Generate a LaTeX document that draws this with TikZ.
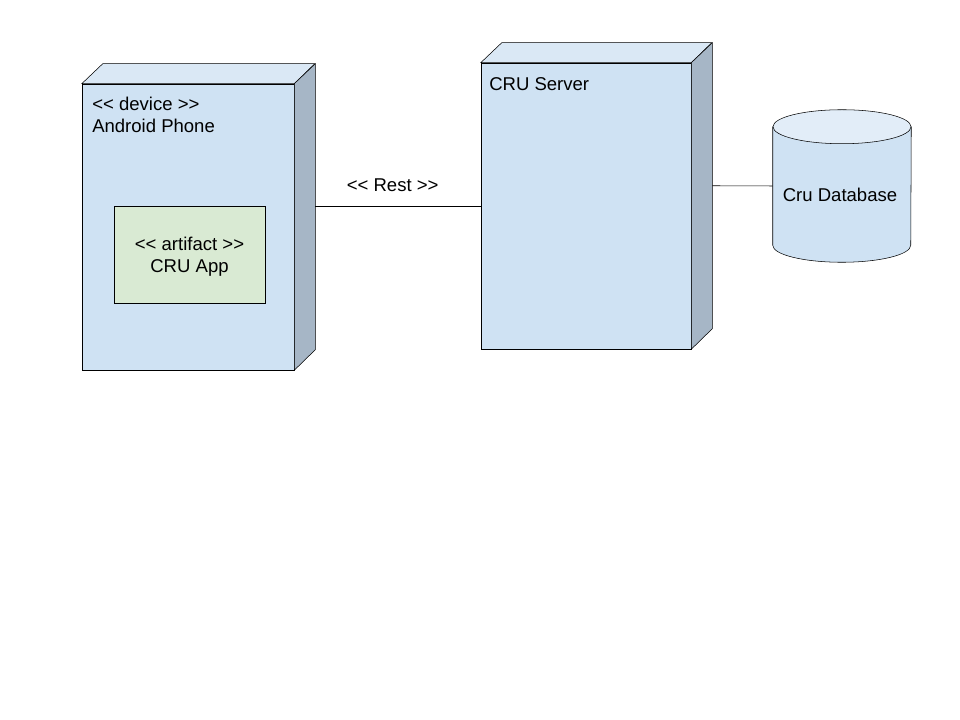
\documentclass[tikz,border=0pt]{standalone}
\usepackage{fontspec}
\setmainfont{Liberation Sans}
\usetikzlibrary{calc, positioning}
\definecolor{nodefront}{RGB}{207,226,243}
\definecolor{nodetop}{RGB}{218,232,245}
\definecolor{nodeside}{RGB}{166,182,198}
\definecolor{artifact}{RGB}{217,234,211}
\definecolor{dbtop}{RGB}{226,237,248}

\begin{document}
\begin{tikzpicture}[x=0.75pt, y=-0.75pt, font=\fontsize{13.9}{16.5}\selectfont,
    front/.style={draw, fill=nodefront, rectangle, inner sep=0pt},
    face/.style={draw, line join=miter},
    artbox/.style={draw, fill=artifact, rectangle, inner sep=0pt, align=center}]

    % Canvas
    \useasboundingbox (0,0) rectangle (960,720);

    % Android phone (3D box)
    \node[front, minimum width=212*0.75pt, minimum height=286*0.75pt] (phone) at (188,227) {};
    \draw[face, fill=nodetop] (phone.north west) -- ++(21,-20) -- ++(212,0) -- (phone.north east) -- cycle;
    \draw[face, fill=nodeside] (phone.north east) -- ++(21,-20) -- ++(0,286) -- (phone.south east) -- cycle;
    \node[anchor=north west, align=left, inner sep=0pt] (phonelabel) at (92,97) {<{}< device >{}>\\Android Phone};

    % Artifact inside phone
    \node[artbox, minimum width=151*0.75pt, minimum height=97*0.75pt] (app) at (189.5,254.5) {};
    \node[align=center] (applabel) at (189.5,257) {<{}< artifact >{}>\\CRU App};

    % CRU server (3D box)
    \node[front, minimum width=210*0.75pt, minimum height=286*0.75pt] (server) at (586,206) {};
    \draw[face, fill=nodetop] (server.north west) -- ++(21,-20) -- ++(210,0) -- (server.north east) -- cycle;
    \draw[face, fill=nodeside] (server.north east) -- ++(21,-20) -- ++(0,286) -- (server.south east) -- cycle;
    \node[anchor=west, inner sep=0pt] (serverlabel) at (489,84) {CRU Server};

    % Cru database (cylinder)
    \node[minimum width=138*0.75pt, minimum height=152*0.75pt, inner sep=0pt] (db) at (842,186) {};
    \draw[fill=nodefront] ($(db.north west)+(0,17)$) -- ($(db.south west)+(0,-17)$)
        arc[start angle=180, end angle=360, x radius=69, y radius=-17]
        -- ($(db.north east)+(0,17)$);
    \draw[fill=dbtop] ($(db.north)+(0,17)$) ellipse[x radius=69, y radius=17];
    \node (dblabel) at (840,195) {Cru Database};

    % Connectors
    \coordinate (phoneport) at ($(phone.north east)+(21,123)$);
    \coordinate (serverport) at ($(server.north east)+(21,123)$);
    \draw (phoneport) -- (server.west |- phoneport) node[midway, above=8pt, xshift=-4pt] {<{}< Rest >{}>};
    \draw (serverport) -- (db.west);

\end{tikzpicture}
\end{document}
